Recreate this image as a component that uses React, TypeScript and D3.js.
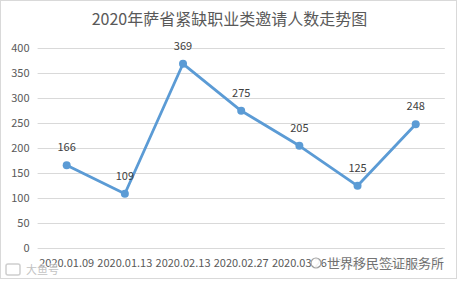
import React from "react";
import * as d3 from "d3";

const title = "2020年萨省紧缺职业类邀请人数走势图";
const categories = ["2020.01.09", "2020.01.13", "2020.02.13", "2020.02.27", "2020.03.26", "2020.04.16", "2020.05.14"];
const values = [166, 109, 369, 275, 205, 125, 248];
const yTicks = [0, 50, 100, 150, 200, 250, 300, 350, 400];
const watermarkRight = "世界移民签证服务所";
const watermarkLeft = "大鱼号";

const W = 459;
const H = 281;
const FONT = "'Noto Sans CJK SC', 'Noto Sans', sans-serif";
const TEXT = "#595959";
const BLUE = "#5B9BD5";

export default function App() {
  const x = d3.scalePoint<string>().domain(categories).range([37.6, 444.8]).padding(0.5);
  const y = d3.scaleLinear().domain([0, 400]).range([248.3, 48.3]);
  const line = d3
    .line<number>()
    .x((_, i) => x(categories[i]) as number)
    .y((d) => y(d));

  return (
    <svg width={W} height={H} style={{ position: "absolute", left: 0, top: 0, background: "#fff" }} fontFamily={FONT}>
      <rect x={0} y={0} width={W} height={H} fill="#fff" />
      <rect x={0.5} y={0.5} width={456} height={278} fill="none" stroke="#d9d9d9" />
      <text x={229.5} y={25} textAnchor="middle" fontSize={16} fill={TEXT}>
        {title}
      </text>
      {yTicks.map((t) => (
        <g key={t}>
          <line x1={37.6} x2={444.8} y1={Math.round(y(t)) + 0.5} y2={Math.round(y(t)) + 0.5} stroke="#d9d9d9" />
          <text x={29.5} y={y(t)} dy="0.35em" textAnchor="end" fontSize={11} fill={TEXT}>
            {t}
          </text>
        </g>
      ))}
      {categories.map((c) => (
        <text key={c} x={x(c)} y={263} dy="0.35em" textAnchor="middle" fontSize={11} fill={TEXT}>
          {c}
        </text>
      ))}
      <path d={line(values) || ""} fill="none" stroke={BLUE} strokeWidth={2.8} strokeLinejoin="round" />
      {values.map((v, i) => (
        <circle key={i} cx={x(categories[i])} cy={y(v)} r={4} fill={BLUE} />
      ))}
      {values.map((v, i) => (
        <text key={"l" + i} x={x(categories[i])} y={y(v) - 18} dy="0.35em" textAnchor="middle" fontSize={11} fill="#404040">
          {v}
        </text>
      ))}
      {/* watermarks */}
      <g opacity={0.9}>
        <circle cx={316} cy={263} r={5} fill="#fff" stroke="#999" strokeWidth={1.2} />
        <text
          x={327}
          y={263}
          dy="0.35em"
          fontSize={13}
          fill="#666"
          stroke="#fff"
          strokeWidth={3}
          paintOrder="stroke"
        >
          {watermarkRight}
        </text>
      </g>
      <g opacity={0.7}>
        <rect x={6} y={264} width={14} height={11} rx={2} fill="none" stroke="#bbb" strokeWidth={1.5} />
        <text x={26} y={270} dy="0.35em" fontSize={11} fill="#aaa" stroke="#fff" strokeWidth={1.5} paintOrder="stroke">
          {watermarkLeft}
        </text>
      </g>
    </svg>
  );
}
